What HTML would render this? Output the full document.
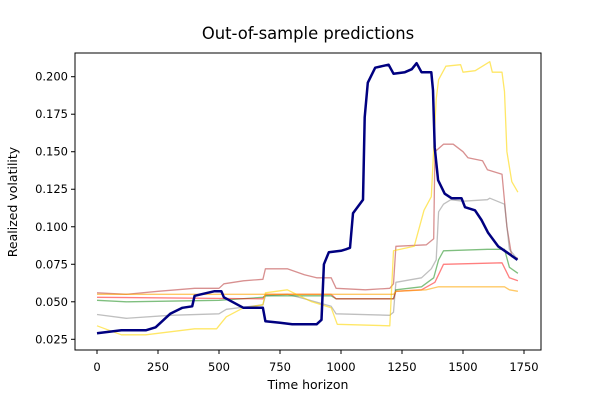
<!DOCTYPE html>
<html><head><meta charset="utf-8"><style>
body{margin:0;background:#fff}
svg{display:block;font-family:"DejaVu Sans","Liberation Sans",sans-serif}
</style></head><body>
<svg id="chart" width="600" height="400" viewBox="0 0 600 400">
<rect width="600" height="400" fill="#fff"/>
<text x="308" y="39" text-anchor="middle" font-size="16.4">Out-of-sample predictions</text>
<text x="308" y="389" text-anchor="middle" font-size="12.5">Time horizon</text>
<text transform="translate(17,202) rotate(-90)" text-anchor="middle" font-size="12.5">Realized volatility</text>
<g id="series"></g>
<g id="axes"></g>
</svg>
<script>
const xTicks=[0,250,500,750,1000,1250,1500,1750];
const yTicks=[0.025,0.050,0.075,0.100,0.125,0.150,0.175,0.200];
const yTickLabels=["0.025","0.050","0.075","0.100","0.125","0.150","0.175","0.200"];
const navyX=[0,100,200,240,300,350,390,400,480,510,520,600,680,690,750,800,900,920,930,950,1000,1020,1037,1049,1090,1097,1110,1140,1195,1215,1262,1290,1310,1330,1370,1377,1384,1398,1425,1453,1494,1508,1549,1576,1603,1644,1685,1723];
const navyY=[0.029,0.031,0.031,0.033,0.042,0.046,0.047,0.054,0.057,0.057,0.053,0.046,0.046,0.037,0.036,0.035,0.035,0.038,0.075,0.083,0.084,0.085,0.086,0.109,0.118,0.173,0.196,0.206,0.208,0.202,0.203,0.205,0.209,0.203,0.203,0.191,0.153,0.131,0.122,0.119,0.119,0.113,0.111,0.1045,0.096,0.087,0.0824,0.078];
const goldX=[0,100,200,300,400,490,510,530,600,680,690,780,880,960,985,1200,1215,1300,1340,1370,1390,1400,1430,1490,1500,1550,1580,1610,1620,1660,1670,1680,1700,1725];
const goldY=[0.034,0.028,0.028,0.030,0.032,0.032,0.036,0.040,0.046,0.048,0.056,0.058,0.050,0.046,0.035,0.034,0.084,0.087,0.111,0.120,0.185,0.198,0.207,0.208,0.203,0.204,0.207,0.210,0.203,0.203,0.190,0.150,0.130,0.123];
const roseX=[0,120,250,400,500,520,600,680,690,780,850,900,960,980,1100,1200,1215,1225,1350,1380,1385,1420,1460,1500,1520,1580,1600,1660,1680,1700,1725];
const roseY=[0.056,0.055,0.057,0.059,0.059,0.062,0.064,0.065,0.072,0.072,0.068,0.066,0.066,0.059,0.058,0.059,0.062,0.087,0.088,0.092,0.150,0.155,0.155,0.150,0.146,0.144,0.138,0.135,0.100,0.080,0.079];
const grayX=[0,120,300,500,530,680,690,780,850,960,980,1200,1215,1225,1330,1370,1390,1400,1420,1450,1500,1600,1610,1670,1690,1725];
const grayY=[0.0415,0.039,0.041,0.042,0.045,0.048,0.054,0.055,0.052,0.047,0.042,0.041,0.043,0.063,0.066,0.072,0.078,0.110,0.115,0.118,0.117,0.118,0.119,0.115,0.085,0.078];
const greenX=[0,120,500,680,690,960,980,1215,1225,1330,1380,1400,1420,1600,1670,1690,1725];
const greenY=[0.051,0.050,0.051,0.053,0.054,0.054,0.052,0.052,0.058,0.060,0.066,0.078,0.084,0.085,0.085,0.073,0.069];
const redX=[0,680,690,960,980,1215,1225,1330,1385,1420,1660,1690,1725];
const redY=[0.053,0.052,0.055,0.055,0.052,0.052,0.057,0.058,0.063,0.075,0.076,0.066,0.064];
const orangeX=[0,1215,1225,1350,1400,1670,1690,1725];
const orangeY=[0.055,0.055,0.057,0.058,0.060,0.060,0.058,0.057];

const L=75,R=541,T=53,B=350;
const sx=v=>97+v*(524-97)/1750;
const sy=v=>339.3-(v-0.025)*(339.3-76.7)/0.175;
const NS="http://www.w3.org/2000/svg";
const sg=document.getElementById('series'), ag=document.getElementById('axes');
function line(xs,ys,color,w,op,name){
  const p=document.createElementNS(NS,'polyline');
  p.setAttribute('points',xs.map((x,i)=>sx(x).toFixed(1)+','+sy(ys[i]).toFixed(1)).join(' '));
  p.setAttribute('fill','none');p.setAttribute('stroke',color);p.setAttribute('stroke-width',w);
  p.setAttribute('stroke-opacity',op);p.setAttribute('stroke-linejoin','round');
  
  
  sg.appendChild(p);
}
line(roseX,roseY,'#b22222',1.3,0.5,'series-rose');
line(grayX,grayY,'#808080',1.3,0.5,'series-gray');
line(greenX,greenY,'#008000',1.3,0.5,'series-green');
line(redX,redY,'#ff0000',1.3,0.5,'series-red');
line(goldX,goldY,'#ffd700',1.3,0.6,'series-gold');
line(orangeX,orangeY,'#ffa500',1.3,0.6,'series-orange');
line(navyX,navyY,'#000080',2.5,1,'series-realized');
const fr=document.createElementNS(NS,'rect');
fr.setAttribute('x',L);fr.setAttribute('y',T);fr.setAttribute('width',R-L);fr.setAttribute('height',B-T);
fr.setAttribute('fill','none');fr.setAttribute('stroke','#000');fr.setAttribute('stroke-width',1);


ag.appendChild(fr);
xTicks.forEach(v=>{
  const t=document.createElementNS(NS,'line');
  t.setAttribute('x1',sx(v));t.setAttribute('x2',sx(v));t.setAttribute('y1',B);t.setAttribute('y2',B+4);t.setAttribute('stroke','#000');
  
  
  ag.appendChild(t);
  const tx=document.createElementNS(NS,'text');
  tx.setAttribute('x',sx(v));tx.setAttribute('y',B+21);tx.setAttribute('text-anchor','middle');tx.setAttribute('font-size','11.5');
  tx.textContent=v;
  
  
  ag.appendChild(tx);
});
yTicks.forEach((v,i)=>{
  const t=document.createElementNS(NS,'line');
  t.setAttribute('x1',L-4);t.setAttribute('x2',L);t.setAttribute('y1',sy(v));t.setAttribute('y2',sy(v));t.setAttribute('stroke','#000');
  
  
  ag.appendChild(t);
  const tx=document.createElementNS(NS,'text');
  tx.setAttribute('x',L-7);tx.setAttribute('y',sy(v)+4);tx.setAttribute('text-anchor','end');tx.setAttribute('font-size','11.5');
  tx.textContent=yTickLabels[i];
  
  
  ag.appendChild(tx);
});
</script>
</body></html>
